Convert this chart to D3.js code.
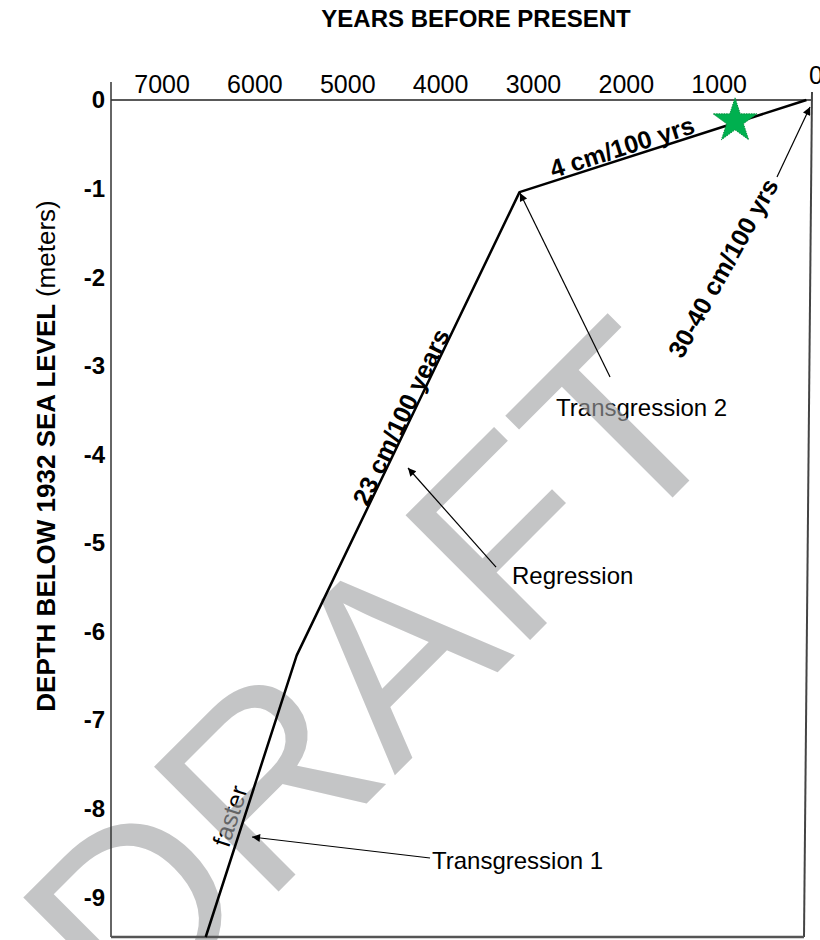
<!DOCTYPE html>
<html>
<head>
<meta charset="utf-8">
<script src="https://cdn.jsdelivr.net/npm/d3@7"></script>
<style>
  html, body { margin: 0; padding: 0; background: #fff; }
  svg { display: block; }
  text { font-family: "Liberation Sans", Arial, sans-serif; }
</style>
</head>
<body>
<svg id="chart" width="820" height="940"></svg>
<script>
// ---- data ----
const lineYears = [6530, 5550, 3150, 60];
const lineDepth = [-9.45, -6.27, -1.04, 0];
const xTickValues = [7000, 6000, 5000, 4000, 3000, 2000, 1000];
const yTickValues = [0, -1, -2, -3, -4, -5, -6, -7, -8, -9];
const starPoint = { years: 829, depth: -0.237 };
const arrowFrom = [[2175, -3.127], [3403, -5.273], [4114, -8.558], [377, -0.869]];
const arrowTo   = [[3145, -1.05], [4351, -4.155], [6031, -8.321], [21, -0.079]];
const plainLabels = ["Transgression 2", "Regression", "Transgression 1"];
const plainLabelPos = [[2757, -3.477], [3231, -5.374], [4093, -8.592]];
const slopeLabels = ["4 cm/100 yrs", "23 cm/100 years", "30-40 cm/100 yrs", "faster"];
const slopeLabelPos = [[2046, -0.531], [4427, -3.579], [958, -1.897], [6268, -8.084]];
const slopeLabelAngle = [-17.8, -64.4, -61, -72];
const slopeLabelBold = [true, true, true, false];

const svg = d3.select("#chart");
const x = d3.scaleLinear().domain([7550, 0]).range([111, 812]);
const y = d3.scaleLinear().domain([0, -9.45]).range([100, 937]);

// ---- titles ----
svg.append("text").attr("x", 476).attr("y", 27).attr("text-anchor", "middle")
  .attr("font-size", 24).attr("font-weight", "bold").text("YEARS BEFORE PRESENT");

const yt = svg.append("text").attr("text-anchor", "middle")
  .attr("transform", "translate(55,456) rotate(-90)").attr("font-size", 26);
yt.append("tspan").attr("font-weight", "bold").text("DEPTH BELOW 1932 SEA LEVEL ");
yt.append("tspan").text("(meters)");

// ---- tick labels ----
svg.append("g").selectAll("text").data(xTickValues).join("text")
  .attr("x", d => x(d)).attr("y", 93).attr("text-anchor", "middle")
  .attr("font-size", 25).text(d => d);
svg.append("text").attr("x", x(0) - 3).attr("y", 84).attr("font-size", 25).text("0");

svg.append("g").selectAll("text").data(yTickValues).join("text")
  .attr("x", 105).attr("y", d => y(d)).attr("dy", "0.35em").attr("text-anchor", "end")
  .attr("font-size", 24).attr("font-weight", "bold").text(d => d);

// ---- annotation texts ----
svg.append("g").selectAll("text").data(plainLabels).join("text")
  .attr("x", (d, i) => x(plainLabelPos[i][0])).attr("y", (d, i) => y(plainLabelPos[i][1]))
  .attr("dy", "0.35em").attr("font-size", 24).text(d => d);

svg.append("g").selectAll("text").data(slopeLabels).join("text")
  .attr("transform", (d, i) => `translate(${x(slopeLabelPos[i][0])},${y(slopeLabelPos[i][1])}) rotate(${slopeLabelAngle[i]})`)
  .attr("text-anchor", "middle").attr("dy", "0.35em").attr("font-size", 25)
  .attr("font-weight", (d, i) => slopeLabelBold[i] ? "bold" : "normal").text(d => d);

// ---- watermark ----
svg.append("text").attr("transform", "translate(133,1037) rotate(-45)")
  .attr("font-size", 256).attr("fill", "#a1a2a4").attr("opacity", 0.62).text("DRAFT");

// ---- frame ----
const frame = svg.append("g").attr("fill", "none");
frame.append("line").attr("x1", x(7550)).attr("x2", x(0)).attr("y1", y(0)).attr("y2", y(0))
  .attr("stroke", "#222").attr("stroke-width", 1.5);
frame.append("line").attr("x1", x(7550)).attr("x2", x(7550)).attr("y1", y(0) - 18).attr("y2", y(-9.45))
  .attr("stroke", "#333").attr("stroke-width", 1.5);
frame.append("line").attr("x1", x(0)).attr("x2", x(0) - 8).attr("y1", y(0) - 8).attr("y2", y(-9.45))
  .attr("stroke", "#444").attr("stroke-width", 2);
frame.append("line").attr("x1", x(7550)).attr("x2", x(0) - 8).attr("y1", y(-9.45)).attr("y2", y(-9.45))
  .attr("stroke", "#555").attr("stroke-width", 2.5);

// ---- main line ----
const pts = lineYears.map((v, i) => [v, lineDepth[i]]);
svg.append("path").datum(pts)
  .attr("d", d3.line().x(d => x(d[0])).y(d => y(d[1])))
  .attr("fill", "none").attr("stroke", "#000").attr("stroke-width", 2.5)
  .attr("stroke-linejoin", "round");

// ---- arrows ----
svg.append("defs").append("marker").attr("id", "ah")
  .attr("viewBox", "0 0 10 10").attr("refX", 10).attr("refY", 5)
  .attr("markerWidth", 11).attr("markerHeight", 8).attr("markerUnits", "userSpaceOnUse")
  .attr("orient", "auto")
  .append("path").attr("d", "M0,0L10,5L0,10Z").attr("fill", "#000");

svg.append("g").selectAll("line").data(arrowFrom).join("line")
  .attr("x1", d => x(d[0])).attr("y1", d => y(d[1]))
  .attr("x2", (d, i) => x(arrowTo[i][0])).attr("y2", (d, i) => y(arrowTo[i][1]))
  .attr("stroke", "#000").attr("stroke-width", 1.2).attr("marker-end", "url(#ah)");

// ---- star ----
svg.append("path")
  .attr("transform", `translate(${x(starPoint.years)},${y(starPoint.depth)})`)
  .attr("d", d3.symbol().type(d3.symbolStar).size(600)())
  .attr("fill", "#00b04f").attr("stroke", "#0a8f3e").attr("stroke-width", 1)
  .attr("stroke-dasharray", "1.5,1");
</script>
</body>
</html>
